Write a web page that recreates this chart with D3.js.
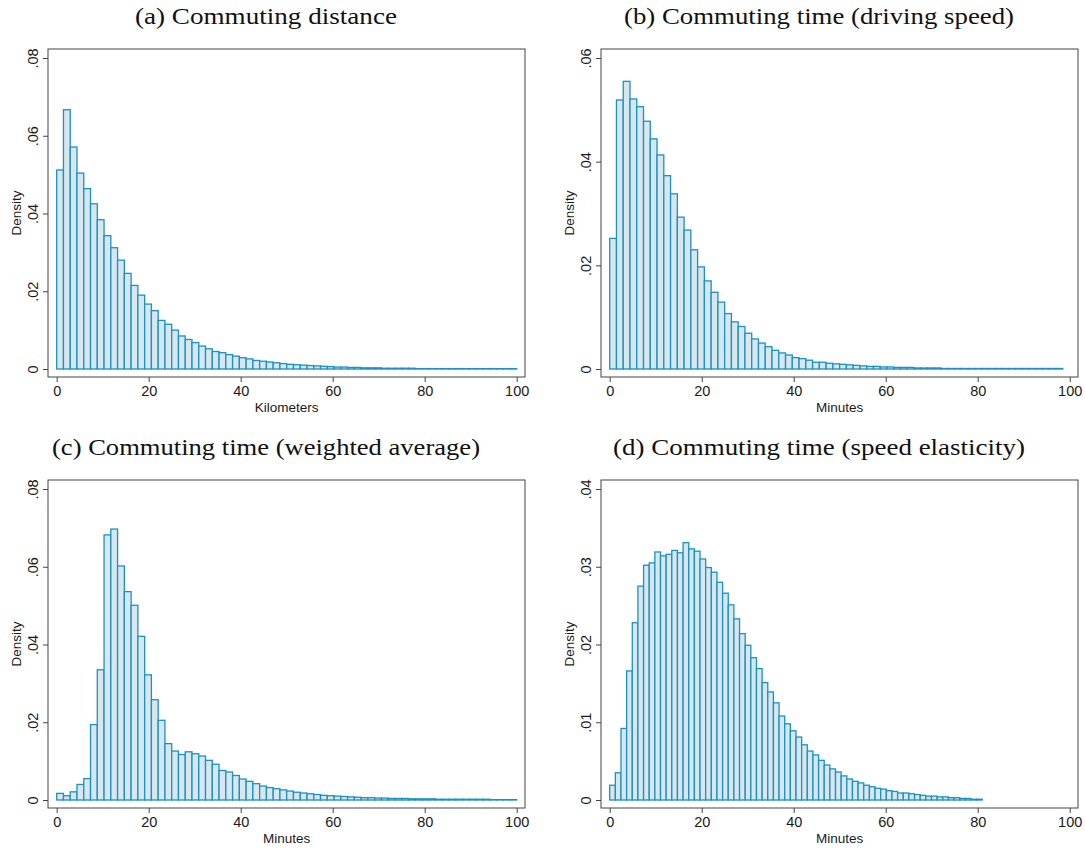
<!DOCTYPE html>
<html>
<head>
<meta charset="utf-8">
<script src="https://cdn.jsdelivr.net/npm/d3@7"></script>
<style>
  body { margin: 0; background: #fff; }
  svg { display: block; }
  .tick text { font-family: "Liberation Sans", Arial, sans-serif; font-size: 14.5px; fill: #1a1a1a; }
  .tick line { stroke: #444; }
  .axis-title { font-family: "Liberation Sans", Arial, sans-serif; font-size: 13.5px; fill: #1a1a1a; }
  .panel-title { font-family: "Liberation Serif", "Times New Roman", serif; font-size: 23px; fill: #111; }
</style>
</head>
<body>
<svg id="chart" width="1085" height="848"></svg>
<script>
// histogram densities (one value per bin)
const distanceKm = [
  .0512, .0667, .0571, .0504, .0464, .0425, .0384, .0343, .0312, .0280,
  .0246, .0215, .0190, .0167, .0150, .0125, .0115, .0100, .0085, .0076,
  .0068, .0059, .0052, .0045, .0042, .0037, .0033, .0029, .0026, .0022,
  .0020, .0018, .0016, .0014, .0012, .0011, .0010, .0009, .0008, .0007,
  .0006, .0005, .0005, .0004, .0004, .0003, .0003, .0003, .0002, .0002,
  .0002, .0002, .0002, .0001, .0001, .0001, .0001, .0001, .0001, .0001,
  .0001, .0001, .0001, .0001, .0001, .0001, .0001, .0001,
];
const timeDriving = [
  .0252, .0519, .0555, .0521, .0506, .0478, .0444, .0413, .0373, .0338,
  .0293, .0268, .0230, .0197, .0170, .0148, .0129, .0107, .0091, .0082,
  .0069, .0058, .0050, .0043, .0036, .0031, .0027, .0022, .0020, .0017,
  .0013, .0013, .0011, .0010, .0009, .0008, .0007, .0006, .0005, .0005,
  .0004, .0004, .0003, .0003, .0003, .0002, .0002, .0002, .0002, .0001,
  .0001, .0001, .0001, .0001, .0001, .0001, .0001, .0001, .0001, .0001,
  .0001, .0001, .0001, .0001, .0001, .0001, .0001,
];
const timeWeighted = [
  .0017, .0011, .0021, .0040, .0055, .0194, .0335, .0682, .0697, .0602,
  .0536, .0501, .0421, .0322, .0258, .0205, .0145, .0126, .0117, .0124,
  .0119, .0113, .0102, .0092, .0076, .0072, .0063, .0054, .0048, .0042,
  .0036, .0032, .0029, .0026, .0023, .0020, .0018, .0016, .0014, .0012,
  .0011, .0010, .0009, .0008, .0007, .0006, .0006, .0005, .0005, .0004,
  .0004, .0004, .0003, .0003, .0003, .0003, .0002, .0002, .0002, .0002,
  .0002, .0002, .0002, .0002, .0001, .0001, .0001, .0001,
];
const timeElastic = [
  .0019, .0035, .0092, .0166, .0228, .0275, .0302, .0305, .0319, .0314,
  .0316, .0321, .0318, .0331, .0323, .0320, .0310, .0299, .0293, .0280,
  .0266, .0251, .0233, .0214, .0199, .0183, .0169, .0151, .0139, .0125,
  .0108, .0098, .0089, .0081, .0071, .0063, .0058, .0051, .0045, .0040,
  .0036, .0031, .0027, .0024, .0022, .0019, .0017, .0015, .0014, .0012,
  .0011, .0009, .0009, .0008, .0007, .0006, .0005, .0005, .0004, .0004,
  .0003, .0003, .0002, .0002, .0001, .0001,
];

// bin ranges (start, end) of each histogram
const binRangeA = [0, 100];
const binRangeB = [0, 98.5];
const binRangeC = [0, 100];
const binRangeD = [0, 81];

const xTicks = [0, 20, 40, 60, 80, 100];
const yTicksA = [0, .02, .04, .06, .08];
const yTicksB = [0, .02, .04, .06];
const yTicksC = [0, .02, .04, .06, .08];
const yTicksD = [0, .01, .02, .03, .04];

const titles = [
  '(a) Commuting distance',
  '(b) Commuting time (driving speed)',
  '(c) Commuting time (weighted average)',
  '(d) Commuting time (speed elasticity)',
];
const xTitles = ['Kilometers', 'Minutes', 'Minutes', 'Minutes'];

const panels = [
  { ox: 0, oy: 0, values: distanceKm, range: binRangeA, yTicks: yTicksA, titleW: 262 },
  { ox: 553, oy: 0, values: timeDriving, range: binRangeB, yTicks: yTicksB, titleW: 390 },
  { ox: 0, oy: 431, values: timeWeighted, range: binRangeC, yTicks: yTicksC, titleW: 428 },
  { ox: 553, oy: 431, values: timeElastic, range: binRangeD, yTicks: yTicksD, titleW: 412 },
];

const svg = d3.select('#chart');
const stataFmt = v => (v === 0 ? '0' : d3.format('.2f')(v).replace(/^0/, ''));

panels.forEach((p, i) => {
  const g = svg.append('g').attr('transform', `translate(${p.ox},${p.oy})`);
  const frame = { left: 48, right: 525, top: 49, bottom: 377 };

  const x = d3.scaleLinear().domain([0, 100]).range([56.7, 516.7]);
  const y = d3.scaleLinear().domain([0, d3.max(p.yTicks)]).range([369, 58]);

  const bw = (p.range[1] - p.range[0]) / p.values.length;
  const bins = p.values.map((v, k) => ({ x0: p.range[0] + k * bw, x1: p.range[0] + (k + 1) * bw, v }));

  g.append('g')
    .selectAll('rect')
    .data(bins)
    .join('rect')
    .attr('x', d => x(d.x0))
    .attr('y', d => y(d.v))
    .attr('width', d => x(d.x1) - x(d.x0))
    .attr('height', d => y(0) - y(d.v))
    .attr('fill', '#d8e6ee')
    .attr('stroke', '#1b92c3')
    .attr('stroke-width', 1.3);

  // plot region outline
  g.append('rect')
    .attr('x', frame.left).attr('y', frame.top)
    .attr('width', frame.right - frame.left).attr('height', frame.bottom - frame.top)
    .attr('fill', 'none').attr('stroke', '#444').attr('stroke-width', 1);

  const xAxis = g.append('g')
    .attr('transform', `translate(0,${frame.bottom})`)
    .call(d3.axisBottom(x).tickValues(xTicks).tickSize(5).tickSizeOuter(0).tickPadding(4));
  xAxis.select('.domain').remove();

  const yAxis = g.append('g')
    .attr('transform', `translate(${frame.left},0)`)
    .call(d3.axisLeft(y).tickValues(p.yTicks).tickFormat(stataFmt).tickSize(5).tickSizeOuter(0));
  yAxis.select('.domain').remove();
  yAxis.selectAll('.tick text')
    .attr('transform', 'rotate(-90)')
    .attr('x', 0)
    .attr('y', -10)
    .attr('dy', 0)
    .attr('text-anchor', 'middle');

  g.append('text')
    .attr('class', 'axis-title')
    .attr('x', (x.range()[0] + x.range()[1]) / 2)
    .attr('y', 412)
    .attr('text-anchor', 'middle')
    .text(xTitles[i]);

  g.append('text')
    .attr('class', 'axis-title')
    .attr('transform', `translate(21,${(frame.top + frame.bottom) / 2}) rotate(-90)`)
    .attr('text-anchor', 'middle')
    .text('Density');

  g.append('text')
    .attr('class', 'panel-title')
    .attr('x', 266)
    .attr('y', 24)
    .attr('text-anchor', 'middle')
    .attr('textLength', p.titleW)
    .attr('lengthAdjust', 'spacingAndGlyphs')
    .text(titles[i]);
});
</script>
</body>
</html>
